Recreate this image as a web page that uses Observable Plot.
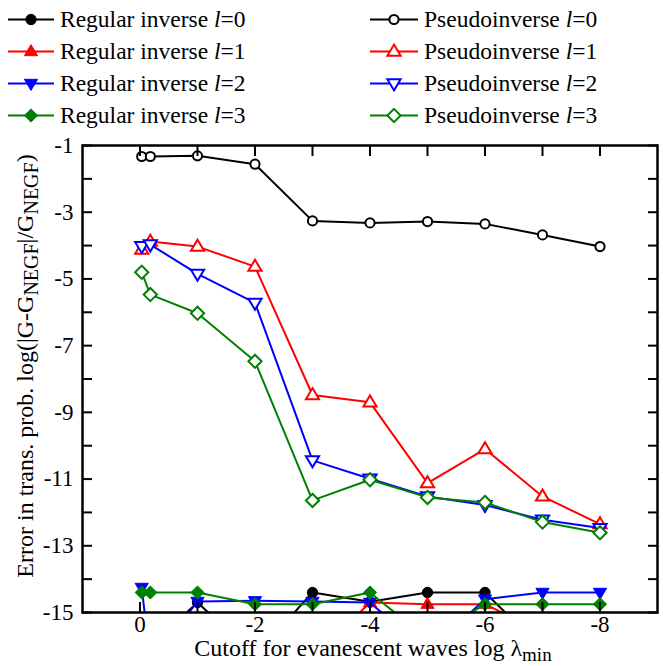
<!DOCTYPE html>
<html><head><meta charset="utf-8">
<script src="https://cdn.jsdelivr.net/npm/d3@7"></script>
<script src="https://cdn.jsdelivr.net/npm/@observablehq/plot@0.6"></script>
<style>
body{margin:0;background:#fff}
#chart{width:663px;height:666px}
</style>
</head><body><div id="chart"></div>
<script>
// cutoff values (log lambda_min)
const xValues = [-0.03, -0.18, -1, -2, -3, -4, -5, -6, -7, -8];
// regular inverse (points below -15 fall outside the frame)
const regular0 = [-16, -16, -14.7, -16.3, -14.4, -14.68, -14.4, -14.4, -16.1, -16];
const regular1 = [-16, -16, -16, -16, -16.4, -14.7, -14.75, -14.75, -15.6, -16];
const regular2 = [-14.25, -16.5, -14.67, -14.65, -14.67, -14.7, -16.2, -14.6, -14.4, -14.4];
const regular3 = [-14.4, -14.4, -14.4, -14.75, -14.75, -14.4, -15.8, -14.75, -14.75, -14.75];
// pseudoinverse
const pseudo0 = [-1.33, -1.33, -1.31, -1.56, -3.26, -3.32, -3.28, -3.35, -3.68, -4.03];
const pseudo1 = [-4.12, -3.88, -4.03, -4.63, -8.48, -8.70, -11.12, -10.10, -11.52, -12.35];
const pseudo2 = [-4.02, -3.97, -4.85, -5.72, -10.44, -10.99, -11.52, -11.78, -12.22, -12.47];
const pseudo3 = [-4.80, -5.47, -6.03, -7.47, -11.64, -11.02, -11.55, -11.70, -12.29, -12.61];

const xTickValues = [0, -1, -2, -3, -4, -5, -6, -7, -8];
const xTickLabels = [0, -2, -4, -6, -8];
const yTickValues = [-1, -2, -3, -4, -5, -6, -7, -8, -9, -10, -11, -12, -13, -14, -15];
const yTickLabels = [-1, -3, -5, -7, -9, -11, -13, -15];
const lValues = [0, 1, 2, 3];
const colors = ["#000000", "#ff0000", "#0000ff", "#008000"];

const FONT = "'Liberation Serif', 'Times New Roman', serif";

const rad = s => Math.sqrt(s / Math.PI);
const triUp = {draw(c, s){const r = rad(s); c.moveTo(0, -1.15*r); c.lineTo(1.1*r, 0.7*r); c.lineTo(-1.1*r, 0.7*r); c.closePath();}};
const triDown = {draw(c, s){const r = rad(s); c.moveTo(0, 1.15*r); c.lineTo(1.1*r, -0.7*r); c.lineTo(-1.1*r, -0.7*r); c.closePath();}};
const diamond = {draw(c, s){const r = rad(s)*1.1; c.moveTo(0, -r); c.lineTo(r, 0); c.lineTo(0, r); c.lineTo(-r, 0); c.closePath();}};
const circ = {draw(c, s){const r = rad(s); c.moveTo(r, 0); c.arc(0, 0, r, 0, 2*Math.PI); c.closePath();}};
const symbols = [circ, triUp, triDown, diamond];

const regular = [regular0, regular1, regular2, regular3];
const pseudo = [pseudo0, pseudo1, pseudo2, pseudo3];
const rows = ys => xValues.map((x, i) => ({x, y: ys[i]}));

const marks = [];
lValues.forEach(l => {
  const d = rows(regular[l]);
  marks.push(Plot.line(d, {x: "x", y: "y", stroke: colors[l], strokeWidth: 2, clip: true}));
  marks.push(Plot.dot(d, {x: "x", y: "y", symbol: symbols[l], r: l === 0 ? 5.2 : 6, fill: colors[l], stroke: colors[l], strokeWidth: 1, clip: true}));
});
lValues.forEach(l => {
  const d = rows(pseudo[l]);
  marks.push(Plot.line(d, {x: "x", y: "y", stroke: colors[l], strokeWidth: 2, clip: true}));
  marks.push(Plot.dot(d, {x: "x", y: "y", symbol: symbols[l], r: l === 0 ? 4.6 : 6, fill: "white", stroke: colors[l], strokeWidth: 2, clip: true}));
});

const fmt = d => String(d);
const svg = Plot.plot({
  width: 663, height: 666,
  marginTop: 145, marginBottom: 54, marginLeft: 82, marginRight: 6,
  x: {domain: [1, -9], label: null},
  y: {domain: [-15, -1], label: null},
  style: {fontFamily: FONT, fontSize: "23px", background: "white", color: "black"},
  marks: [
    ...marks,
    Plot.axisX({anchor: "bottom", ticks: xTickLabels, tickSize: 0, tickPadding: 3, tickFormat: fmt, fontSize: 23, label: null}),
    Plot.axisX({anchor: "bottom", ticks: xTickValues, tickSize: -10, tickPadding: 0, tickFormat: () => "", strokeWidth: 2, label: null}),
    Plot.axisX({anchor: "top", ticks: xTickValues, tickSize: -10, tickPadding: 0, tickFormat: () => "", strokeWidth: 2, label: null}),
    Plot.axisY({anchor: "left", ticks: yTickLabels, tickSize: 0, tickPadding: 9, tickFormat: fmt, fontSize: 23, label: null}),
    Plot.axisY({anchor: "left", ticks: yTickValues, tickSize: -10, tickPadding: 0, tickFormat: () => "", strokeWidth: 2, label: null}),
    Plot.axisY({anchor: "right", ticks: yTickValues, tickSize: -10, tickPadding: 0, tickFormat: () => "", strokeWidth: 2, label: null}),
    Plot.frame({stroke: "black", strokeWidth: 2.5})
  ]
});
document.getElementById("chart").appendChild(svg);

const s = d3.select(svg);
// axis titles
const xt = s.append("text").attr("x", 373).attr("y", 656).attr("text-anchor", "middle")
  .attr("font-family", FONT).attr("font-size", 24).attr("fill", "black");
xt.append("tspan").text("Cutoff for evanescent waves log \u03bb");
xt.append("tspan").attr("dy", 5).attr("font-size", 19).text("min");

const yt = s.append("text").attr("transform", "translate(33,366) rotate(-90)").attr("text-anchor", "middle")
  .attr("font-family", FONT).attr("font-size", 24).attr("fill", "black");
yt.append("tspan").text("Error in trans. prob. log(|G-G");
yt.append("tspan").attr("dy", 5).attr("font-size", 20).text("NEGF");
yt.append("tspan").attr("dy", -5).text("|/G");
yt.append("tspan").attr("dy", 5).attr("font-size", 20).text("NEGF");
yt.append("tspan").attr("dy", -5).text(")");

// legend
const legendRows = [19.5, 51.5, 83.5, 115.5];
const cols = [{x0: 8, x1: 54, label: "Regular inverse ", filled: true}, {x0: 370, x1: 418, label: "Pseudoinverse ", filled: false}];
const lg = s.append("g");
cols.forEach(col => {
  lValues.forEach(l => {
    const y = legendRows[l], c = colors[l];
    lg.append("line").attr("x1", col.x0).attr("x2", col.x1).attr("y1", y).attr("y2", y).attr("stroke", c).attr("stroke-width", 2);
    const p = d3.path();
    const r = col.filled ? (l === 0 ? 5.2 : 6) : (l === 0 ? 4.6 : 6);
    symbols[l].draw(p, r * r * Math.PI);
    lg.append("path").attr("d", p.toString()).attr("transform", `translate(${(col.x0 + col.x1) / 2},${y})`)
      .attr("fill", col.filled ? c : "white").attr("stroke", c).attr("stroke-width", col.filled ? 1 : 2);
    const t = lg.append("text").attr("x", col.x1 + 6).attr("y", y + 7.5).attr("text-anchor", "start")
      .attr("font-family", FONT).attr("font-size", 23.5).attr("fill", "black");
    t.append("tspan").text(col.label);
    t.append("tspan").attr("font-style", "italic").text("l");
    t.append("tspan").text("=" + l);
  });
});
</script>
</body></html>
